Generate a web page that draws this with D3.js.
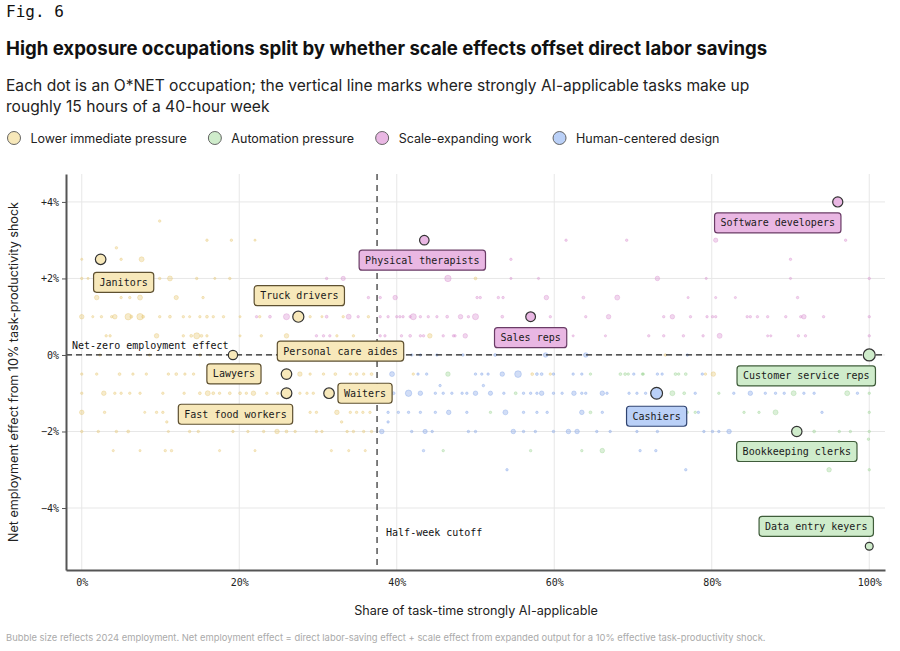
<!DOCTYPE html>
<html>
<head>
<meta charset="utf-8">
<script src="https://cdn.jsdelivr.net/npm/d3@7"></script>
<style>
  html, body { margin: 0; padding: 0; background: #fff; }
  svg { display: block; }
  .mono { font-family: "DejaVu Sans Mono", "Liberation Mono", monospace; }
  .sans { font-family: Inter, "Noto Sans", sans-serif; }
</style>
</head>
<body>
<div id="chart"></div>
<script>
// ---- data ----
const xTicks = [0, 20, 40, 60, 80, 100];
const yTicks = [-4, -2, 0, 2, 4];
const cutoff = 37.5; // 15 of 40 hours

const categories = [
  { key: 'lower', label: 'Lower immediate pressure' },
  { key: 'auto', label: 'Automation pressure' },
  { key: 'scale', label: 'Scale-expanding work' },
  { key: 'human', label: 'Human-centered design' }
];

// highlighted occupations: [name, category, share %, net effect %, employment]
const highlighted = [
  ['Software developers', 'scale', 96.0, 4.0, 2500],
  ['Physical therapists', 'scale', 43.5, 3.0, 2200],
  ['Janitors', 'lower', 2.4, 2.5, 2700],
  ['Truck drivers', 'lower', 27.5, 1.0, 3000],
  ['Sales reps', 'scale', 57.0, 1.0, 2300],
  ['Lawyers', 'lower', 19.2, 0.0, 2100],
  ['Customer service reps', 'auto', 100.0, 0.0, 3500],
  ['Personal care aides', 'lower', 26.0, -0.5, 2700],
  ['Fast food workers', 'lower', 26.0, -1.0, 2800],
  ['Waiters', 'lower', 31.4, -1.0, 2700],
  ['Cashiers', 'human', 73.0, -1.0, 3400],
  ['Bookkeeping clerks', 'auto', 90.8, -2.0, 2600],
  ['Data entry keyers', 'auto', 100.0, -5.0, 1500]
];

// background occupations: [share %, net effect %, employment]
const lowerPoints = [
  [9.9, 3.5, 150], [15.9, 3, 150], [19.0, 3, 150], [22.0, 3, 120], [4.4, 2.8, 150],
  [0, 2.5, 120], [5.0, 2.5, 150], [7.6, 2.5, 600],
  [0, 2, 150], [0.8, 2, 120], [9.9, 2, 150], [11.2, 2, 600], [14.6, 2, 150], [16.9, 2, 120], [18.8, 2, 150], [50.0, 2, 200],
  [1.9, 1.5, 500], [5.0, 1.5, 150], [6.1, 1.5, 150], [7.4, 1.5, 600], [12.0, 1.5, 450], [15.4, 1.5, 150],
  [0, 1, 500], [1.4, 1, 120], [2.5, 1, 150], [3.8, 1, 150], [4.2, 1, 500], [5.9, 1, 1000], [6.3, 1, 200],
  [7.4, 1, 1000], [7.8, 1, 200], [9.9, 1, 150], [11.2, 1, 200], [12.9, 1, 150], [13.7, 1, 120], [15.0, 1, 150],
  [15.9, 1, 200], [16.7, 1, 150], [18.0, 1, 150], [20.1, 1, 120], [22.6, 1, 150], [29.0, 1, 150], [30.5, 1, 120],
  [33.2, 1, 150], [36.4, 1, 150],
  [3.1, 0.5, 150], [3.6, 0.5, 150], [9.5, 0.5, 500], [12.9, 0.5, 150], [13.9, 0.5, 200], [14.6, 0.5, 900],
  [15.2, 0.5, 200], [15.9, 0.5, 150], [20.1, 0.5, 120], [22.8, 0.5, 150], [26.0, 0.5, 500], [32.4, 0.5, 150],
  [34.5, 0.5, 150], [44.2, 0.5, 500], [54.0, 0.5, 150],
  [2.3, 0, 150], [8.6, 0, 150], [15.0, 0, 150], [27.7, 0, 150], [32.8, 0, 150], [74.1, 0, 150],
  [0, -0.5, 150], [1.9, -0.5, 150], [4.8, -0.5, 200], [6.5, -0.5, 150], [8.2, -0.5, 150], [11.0, -0.5, 150],
  [12.0, -0.5, 200], [13.1, -0.5, 150], [14.2, -0.5, 150], [21.1, -0.5, 150], [27.7, -0.5, 500], [29.0, -0.5, 150],
  [30.7, -0.5, 150], [32.2, -0.5, 200], [34.1, -0.5, 150], [34.9, -0.5, 200], [35.8, -0.5, 150], [36.8, -0.5, 200],
  [42.1, -0.5, 150], [57.2, -0.5, 200], [59.5, -0.5, 150], [79.2, -0.5, 150], [80.2, -0.5, 500],
  [0, -1, 150], [2.8, -1, 500], [4.2, -1, 150], [5.0, -1, 150], [6.1, -1, 150], [7.4, -1, 150], [10.3, -1, 150],
  [13.0, -1, 150], [15.0, -1, 200], [16.0, -1, 600], [16.7, -1, 200], [17.5, -1, 150], [18.8, -1, 200],
  [20.1, -1, 200], [20.9, -1, 150], [21.8, -1, 500], [23.5, -1, 150], [24.9, -1, 150], [27.7, -1, 150],
  [28.6, -1, 150], [29.4, -1, 150],
  [0, -1.5, 500], [2.9, -1.5, 150], [8.0, -1.5, 120], [9.5, -1.5, 150], [10.3, -1.5, 150], [12.7, -1.5, 150],
  [14.4, -1.5, 150], [19.2, -1.5, 150], [21.8, -1.5, 150], [23.5, -1.5, 150], [29.0, -1.5, 150], [29.8, -1.5, 150],
  [32.4, -1.5, 500], [34.1, -1.5, 150], [34.9, -1.5, 150], [35.7, -1.5, 150], [36.6, -1.5, 150],
  [10.8, -1.75, 150], [33.0, -1.75, 150],
  [0, -2, 150], [2.1, -2, 150], [4.4, -2, 150], [5.9, -2, 200], [11.0, -2, 120], [13.7, -2, 150], [14.8, -2, 150],
  [19.2, -2, 150], [21.1, -2, 150], [23.1, -2, 150], [24.8, -2, 500], [26.0, -2, 200], [27.1, -2, 150],
  [29.8, -2, 150], [30.5, -2, 150], [33.7, -2, 150], [34.5, -2, 150], [35.8, -2, 150], [36.8, -2, 150],
  [4.0, -2.5, 120], [7.4, -2.5, 120], [10.6, -2.5, 150], [11.4, -2.5, 150], [17.5, -2.5, 120], [22.0, -2.5, 120],
  [31.7, -2.5, 120], [33.9, -2.5, 120], [36.0, -2.5, 120]
];

const scalePoints = [
  [61.5, 3, 150], [69.2, 3, 150], [80.5, 3, 450], [97.0, 3, 150],
  [54.5, 2.5, 150], [90.0, 2.5, 150],
  [31.1, 2, 150], [33.2, 2, 450], [46.5, 2, 1000], [54.5, 2, 120], [58.0, 2, 120], [73.1, 2, 500],
  [79.3, 2, 120], [90.0, 2, 120], [100, 2, 150],
  [36.4, 1.5, 150], [37.9, 1.5, 150], [39.8, 1.5, 500], [50.2, 1.5, 150], [50.6, 1.5, 150], [52.9, 1.5, 150],
  [53.5, 1.5, 150], [59.0, 1.5, 500], [63.7, 1.5, 200], [68.0, 1.5, 600], [77.0, 1.5, 120], [80.5, 1.5, 120],
  [83.0, 1.5, 120], [90.9, 1.5, 150],
  [22.2, 1, 150], [23.9, 1, 200], [26.0, 1, 900], [31.1, 1, 200], [33.9, 1, 600], [35.1, 1, 150], [37.9, 1, 150],
  [38.9, 1, 150], [40.0, 1, 150], [40.4, 1, 150], [40.8, 1, 150], [41.7, 1, 150], [42.1, 1, 900], [43.0, 1, 150],
  [44.0, 1, 150], [45.1, 1, 150], [46.4, 1, 200], [48.1, 1, 500], [49.1, 1, 150], [50.0, 1, 900], [53.4, 1, 200],
  [59.5, 1, 150], [64.0, 1, 150], [66.9, 1, 500], [73.9, 1, 150], [75.0, 1, 500], [77.3, 1, 150], [79.4, 1, 150],
  [80.1, 1, 150], [80.5, 1, 150], [84.5, 1, 150], [84.9, 1, 150], [85.8, 1, 150], [87.1, 1, 150], [89.4, 1, 150],
  [91.3, 1, 150], [91.7, 1, 500], [94.2, 1, 150], [100, 1, 150],
  [29.8, 0.5, 150], [30.7, 0.5, 150], [31.5, 0.5, 150], [37.9, 0.5, 150], [38.5, 0.5, 150], [40.6, 0.5, 150],
  [41.7, 0.5, 200], [43.0, 0.5, 150], [43.4, 0.5, 150], [45.9, 0.5, 150], [47.2, 0.5, 150], [47.4, 0.5, 150],
  [48.7, 0.5, 500], [62.4, 0.5, 120], [66.5, 0.5, 120], [72.0, 0.5, 150], [73.9, 0.5, 150], [76.4, 0.5, 150],
  [78.9, 0.5, 150], [81.0, 0.5, 600], [87.1, 0.5, 120], [87.5, 0.5, 120], [91.0, 0.5, 150], [91.9, 0.5, 150],
  [100, 0.5, 150]
];

const humanPoints = [
  [41.9, 0, 150], [43.0, 0, 150], [45.1, 0, 150], [48.4, 0, 150], [52.5, 0, 200], [58.9, 0, 500], [64.0, 0, 500], [76.9, 0, 150],
  [39.4, -0.5, 600], [42.7, -0.5, 150], [43.8, -0.5, 150], [50.0, -0.5, 150], [50.8, -0.5, 150], [51.6, -0.5, 150],
  [53.4, -0.5, 500], [55.4, -0.5, 1100], [57.8, -0.5, 200], [58.4, -0.5, 200], [59.9, -0.5, 150], [62.4, -0.5, 150],
  [63.5, -0.5, 150], [70.1, -0.5, 150], [73.1, -0.5, 150], [73.7, -0.5, 150], [78.8, -0.5, 150],
  [45.5, -0.8, 150], [51.0, -0.8, 150],
  [39.6, -1, 200], [41.5, -1, 1000], [43.0, -1, 500], [44.9, -1, 150], [45.9, -1, 150], [47.0, -1, 150],
  [48.3, -1, 150], [48.9, -1, 150], [50.0, -1, 500], [51.9, -1, 450], [53.6, -1, 150], [56.1, -1, 150],
  [57.0, -1, 150], [57.8, -1, 150], [58.4, -1, 500], [59.9, -1, 150], [61.0, -1, 150], [62.5, -1, 500],
  [63.5, -1, 150], [64.0, -1, 150], [66.1, -1, 500], [66.7, -1, 150], [69.5, -1, 150], [70.5, -1, 150],
  [71.6, -1, 150], [77.9, -1, 150], [82.8, -1, 150], [84.9, -1, 500], [86.8, -1, 150], [88.1, -1, 150],
  [89.2, -1, 150], [91.7, -1, 150], [93.0, -1, 150], [98.5, -1, 150],
  [38.9, -1.5, 150], [40.2, -1.5, 150], [41.5, -1.5, 150], [43.0, -1.5, 150], [44.9, -1.5, 150], [46.6, -1.5, 500],
  [48.9, -1.5, 150], [53.8, -1.5, 600], [56.1, -1.5, 150], [57.8, -1.5, 150], [59.1, -1.5, 150], [63.5, -1.5, 500],
  [66.1, -1.5, 150], [73.1, -1.5, 150], [78.3, -1.5, 150], [94.0, -1.5, 150],
  [38.9, -1.75, 150],
  [38.1, -2, 500], [41.9, -2, 150], [43.6, -2, 450], [44.5, -2, 150], [49.1, -2, 150], [50.0, -2, 150],
  [54.8, -2, 500], [56.1, -2, 150], [57.6, -2, 150], [59.9, -2, 150], [61.8, -2, 500], [62.9, -2, 500],
  [65.4, -2, 150], [67.1, -2, 150], [70.5, -2, 150], [73.1, -2, 150], [79.0, -2, 150], [80.1, -2, 150],
  [80.9, -2, 150], [82.2, -2, 500],
  [43.4, -2.5, 150], [70.9, -2.5, 150], [72.9, -2.5, 150],
  [54.0, -3, 150], [76.7, -3, 150]
];

const autoPoints = [
  [46.5, -0.5, 500], [64.6, -0.5, 150], [68.4, -0.5, 200], [69.0, -0.5, 200], [69.4, -0.5, 150], [71.2, -0.5, 150],
  [71.3, -0.5, 150], [75.4, -0.5, 200], [75.8, -0.5, 150], [76.7, -0.5, 200],
  [55.1, -1, 200], [75.0, -1, 600], [76.5, -1, 200], [80.9, -1, 150], [90.4, -1, 600], [97.2, -1, 600], [100, -1, 150],
  [51.9, -1.5, 150], [64.6, -1.5, 200], [71.4, -1.5, 150], [76.9, -1.5, 150], [77.9, -1.5, 150], [84.1, -1.5, 150],
  [86.0, -1.5, 150], [88.1, -1.5, 600], [100, -1.5, 150],
  [93.0, -2, 200], [96.2, -2, 150], [97.6, -2, 150], [100, -2, 150], [99.9, -2.2, 150],
  [45.9, -2.5, 150], [57.0, -2.5, 150], [63.5, -2.5, 150], [66.1, -2.5, 500],
  [94.9, -3, 500], [100, -3, 150]
];

const background = { lower: lowerPoints, auto: autoPoints, scale: scalePoints, human: humanPoints };

// ---- styling ----
const fills = { lower: '#f7e8ba', auto: '#cfeccb', scale: '#e9b7e3', human: '#bad0f7' };
const dots = { lower: '#e6c56e', auto: '#97d190', scale: '#d78ccd', human: '#7c9fe6' };
const edges = { lower: '#5e5030', auto: '#3f5c3a', scale: '#6a3c66', human: '#2f4370' };

// label box centre relative to its point, in pixels
const labelOffset = {
  'Software developers': [-60, 21], 'Physical therapists': [-2, 20], 'Janitors': [23, 23],
  'Truck drivers': [1, -21], 'Sales reps': [0, 21], 'Lawyers': [1, 19],
  'Customer service reps': [-63, 21], 'Personal care aides': [54, -23], 'Fast food workers': [-51, 21],
  'Waiters': [36, 0], 'Cashiers': [0, 23], 'Bookkeeping clerks': [0, 20], 'Data entry keyers': [-53, -20]
};

const width = 900, height = 651;
const margin = {top: 174, right: 15, bottom: 81, left: 66};

const svg = d3.select('#chart').append('svg')
  .attr('width', width)
  .attr('height', height);

// ---- header ----
svg.append('text').attr('class', 'mono')
  .attr('x', 6).attr('y', 17).attr('font-size', 16).attr('fill', '#111')
  .text('Fig. 6');

svg.append('text').attr('class', 'sans')
  .attr('x', 6).attr('y', 55).attr('font-size', 18.6).attr('font-weight', 700).attr('fill', '#111')
  .text('High exposure occupations split by whether scale effects offset direct labor savings');

const subtitle = svg.append('text').attr('class', 'sans')
  .attr('x', 6).attr('y', 91).attr('font-size', 15.6).attr('fill', '#222');
subtitle.append('tspan').attr('x', 6)
  .text('Each dot is an O*NET occupation; the vertical line marks where strongly AI-applicable tasks make up');
subtitle.append('tspan').attr('x', 6).attr('dy', 21)
  .text('roughly 15 hours of a 40-hour week');

// legend
let lx = 14;
categories.forEach(c => {
  const g = svg.append('g');
  g.append('circle').attr('cx', lx).attr('cy', 138).attr('r', 6.5)
    .attr('fill', fills[c.key]).attr('stroke', '#555').attr('stroke-width', 0.9);
  const t = g.append('text').attr('class', 'sans')
    .attr('x', lx + 16.5).attr('y', 142.5).attr('font-size', 12.5).attr('fill', '#222')
    .text(c.label);
  lx = lx + 16.5 + t.node().getComputedTextLength() + 28;
});

// ---- scales ----
const xScale = d3.scaleLinear().domain([-2, 102]).range([margin.left, width - margin.right]);
const yScale = d3.scaleLinear().domain([-5.62, 4.73]).range([height - margin.bottom, margin.top]);
const rScale = d3.scaleSqrt().domain([0, 3500]).range([0, 6]);

// grid
svg.append('g').selectAll('line').data(xTicks).enter().append('line')
  .attr('x1', d => xScale(d)).attr('x2', d => xScale(d))
  .attr('y1', margin.top).attr('y2', height - margin.bottom)
  .attr('stroke', '#e7e7e7');
svg.append('g').selectAll('line').data(yTicks).enter().append('line')
  .attr('x1', margin.left).attr('x2', width - margin.right)
  .attr('y1', d => yScale(d)).attr('y2', d => yScale(d))
  .attr('stroke', '#e7e7e7');

// background dots
categories.forEach(c => {
  svg.append('g').selectAll('circle').data(background[c.key]).enter().append('circle')
    .attr('cx', d => xScale(d[0]))
    .attr('cy', d => yScale(d[1]))
    .attr('r', d => rScale(d[2]))
    .attr('fill', dots[c.key]).attr('fill-opacity', 0.35)
    .attr('stroke', dots[c.key]).attr('stroke-opacity', 0.45).attr('stroke-width', 0.8);
});

// zero line
svg.append('line')
  .attr('x1', margin.left).attr('x2', width - margin.right)
  .attr('y1', yScale(0)).attr('y2', yScale(0))
  .attr('stroke', '#222').attr('stroke-width', 1.2).attr('stroke-dasharray', '6,4');
svg.append('text').attr('class', 'mono')
  .attr('x', margin.left + 6).attr('y', yScale(0) - 6)
  .attr('font-size', 10).attr('fill', '#111')
  .text('Net-zero employment effect');

// cutoff line
svg.append('line')
  .attr('x1', xScale(cutoff)).attr('x2', xScale(cutoff))
  .attr('y1', margin.top).attr('y2', height - margin.bottom)
  .attr('stroke', '#555').attr('stroke-width', 1.5).attr('stroke-dasharray', '6,5');
svg.append('text').attr('class', 'mono')
  .attr('x', xScale(cutoff) + 9).attr('y', 536)
  .attr('font-size', 10).attr('fill', '#111')
  .text('Half-week cutoff');

// axes
const yAxis = svg.append('g')
  .attr('transform', `translate(${margin.left},0)`)
  .call(d3.axisLeft(yScale).tickValues(yTicks).tickSize(4).tickSizeOuter(0).tickPadding(3)
    .tickFormat(d => d > 0 ? `+${d}%` : d < 0 ? `\u2212${-d}%` : '0%'));
const xAxis = svg.append('g')
  .attr('transform', `translate(0,${height - margin.bottom})`)
  .call(d3.axisBottom(xScale).tickValues(xTicks).tickSize(0).tickSizeOuter(0).tickPadding(9)
    .tickFormat(d => `${d}%`));
[yAxis, xAxis].forEach(a => {
  a.select('.domain').attr('stroke', '#555').attr('stroke-width', 2);
  a.selectAll('.tick line').attr('stroke', '#555');
  a.selectAll('.tick text').attr('class', 'mono').attr('font-size', 10).attr('fill', '#222');
});

svg.append('text').attr('class', 'sans')
  .attr('transform', `translate(18,${(margin.top + height - margin.bottom) / 2}) rotate(-90)`)
  .attr('text-anchor', 'middle').attr('font-size', 12.6).attr('fill', '#222')
  .text('Net employment effect from 10% task-productivity shock');
svg.append('text').attr('class', 'sans')
  .attr('x', 476).attr('y', 615)
  .attr('text-anchor', 'middle').attr('font-size', 12.6).attr('fill', '#222')
  .text('Share of task-time strongly AI-applicable');

// footnote
svg.append('text').attr('class', 'sans')
  .attr('x', 6).attr('y', 641).attr('font-size', 9.4).attr('fill', '#aaa')
  .text('Bubble size reflects 2024 employment. Net employment effect = direct labor-saving effect + scale effect from expanded output for a 10% effective task-productivity shock.');

// highlighted points
svg.append('g').selectAll('circle').data(highlighted).enter().append('circle')
  .attr('cx', d => xScale(d[2]))
  .attr('cy', d => yScale(d[3]))
  .attr('r', d => rScale(d[4]))
  .attr('fill', d => fills[d[1]])
  .attr('stroke', '#333').attr('stroke-width', 1.2);

// label boxes
highlighted.forEach(d => {
  const [name, cat, sx, ny] = d;
  const off = labelOffset[name];
  const cx = xScale(sx) + off[0], cy = yScale(ny) + off[1];
  const g = svg.append('g');
  const rect = g.append('rect');
  const t = g.append('text').attr('class', 'mono')
    .attr('x', cx).attr('y', cy + 3.5)
    .attr('text-anchor', 'middle').attr('font-size', 10).attr('fill', '#1a1a1a')
    .text(name);
  const w = t.node().getComputedTextLength() + 12;
  rect.attr('x', cx - w / 2).attr('y', cy - 10).attr('width', w).attr('height', 20)
    .attr('rx', 3).attr('fill', fills[cat]).attr('stroke', edges[cat]).attr('stroke-width', 1.2);
});
</script>
</body>
</html>
